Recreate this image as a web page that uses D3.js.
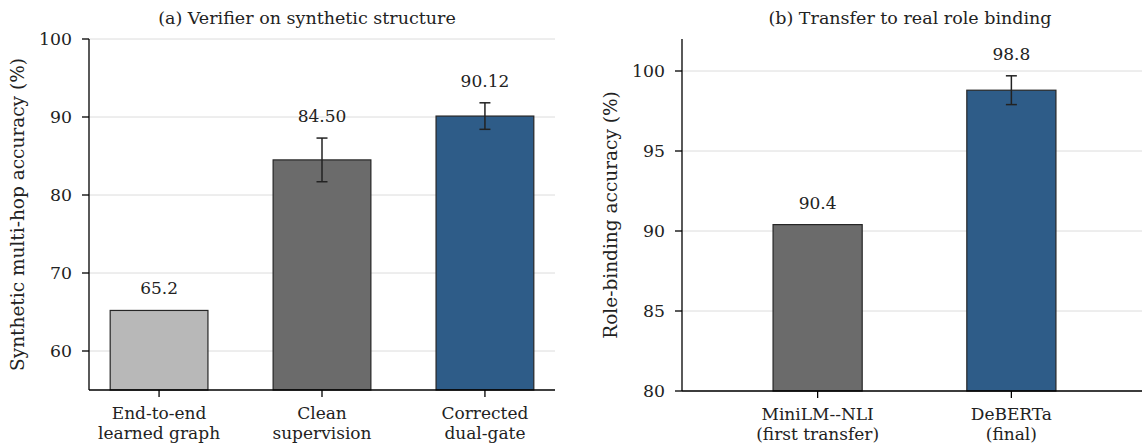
<!DOCTYPE html>
<html>
<head>
<meta charset="utf-8">
<script src="https://cdn.jsdelivr.net/npm/d3@7"></script>
<style>
  body { margin: 0; background: #fff; }
  text { font-family: "DejaVu Serif", serif; fill: #222; }
</style>
</head>
<body>
<div id="chart"></div>
<script>
// Panel (a) data
let synthLabels = [['End-to-end', 'learned graph'], ['Clean', 'supervision'], ['Corrected', 'dual-gate']];
let synthValues = [65.2, 84.50, 90.12];
let synthText = ['65.2', '84.50', '90.12'];
let synthErr = [0, 2.8, 1.7];
let synthTicks = [60, 70, 80, 90, 100];

// Panel (b) data
let roleLabels = [['MiniLM--NLI', '(first transfer)'], ['DeBERTa', '(final)']];
let roleValues = [90.4, 98.8];
let roleText = ['90.4', '98.8'];
let roleErr = [0, 0.9];
let roleTicks = [80, 85, 90, 95, 100];

let width = 1142;
let height = 446;

let svg = d3.select('#chart')
	.append('svg')
	.attr('width', width)
	.attr('height', height)

function panel(opt){
	let g = svg.append('g');
	let x = d3.scaleLinear().domain(opt.xDomain).range([opt.left, opt.right]);
	let y = d3.scaleLinear().domain(opt.yDomain).range([opt.bottom, opt.top]);

	// grid
	g.selectAll('.grid')
	 .data(opt.ticks)
	 .enter()
	 .append('line')
	 .attr('x1', opt.left)
	 .attr('x2', opt.right)
	 .attr('y1', d => y(d))
	 .attr('y2', d => y(d))
	 .attr('stroke', '#dcdcdc')
	 .attr('stroke-width', 1)

	// bars
	g.selectAll('.bar')
	 .data(opt.values)
	 .enter()
	 .append('rect')
	 .attr('x', (d, i) => x(i - opt.barWidth / 2))
	 .attr('width', (d, i) => x(i + opt.barWidth / 2) - x(i - opt.barWidth / 2))
	 .attr('y', d => y(d))
	 .attr('height', d => y(opt.yDomain[0]) - y(d))
	 .attr('fill', (d, i) => opt.colors[i])
	 .attr('stroke', '#262626')
	 .attr('stroke-width', 1.2)

	// error bars + value labels
	for(let i = 0; i < opt.values.length; i++){
		if(opt.err[i] > 0){
			let cx = x(i);
			let lo = y(opt.values[i] - opt.err[i]);
			let hi = y(opt.values[i] + opt.err[i]);
			g.append('line').attr('x1', cx).attr('x2', cx).attr('y1', lo).attr('y2', hi)
			 .attr('stroke', '#222').attr('stroke-width', 1.5)
			g.append('line').attr('x1', cx - 5.5).attr('x2', cx + 5.5).attr('y1', lo).attr('y2', lo)
			 .attr('stroke', '#222').attr('stroke-width', 1.5)
			g.append('line').attr('x1', cx - 5.5).attr('x2', cx + 5.5).attr('y1', hi).attr('y2', hi)
			 .attr('stroke', '#222').attr('stroke-width', 1.5)
		}
		g.append('text')
		 .text(opt.text[i])
		 .attr('x', x(i))
		 .attr('y', y(opt.values[i] + opt.err[i]) - 16)
		 .attr('text-anchor', 'middle')
		 .attr('font-size', 17)
	}

	// y axis
	g.append('line')
	 .attr('x1', opt.left).attr('x2', opt.left)
	 .attr('y1', opt.top).attr('y2', opt.bottom)
	 .attr('stroke', '#000').attr('stroke-width', 1.3)
	for(let i = 0; i < opt.ticks.length; i++){
		g.append('line')
		 .attr('x1', opt.left - 7).attr('x2', opt.left)
		 .attr('y1', y(opt.ticks[i])).attr('y2', y(opt.ticks[i]))
		 .attr('stroke', '#000').attr('stroke-width', 1.3)
		g.append('text')
		 .text(opt.ticks[i])
		 .attr('x', opt.left - 17)
		 .attr('y', y(opt.ticks[i]))
		 .attr('dy', '0.36em')
		 .attr('text-anchor', 'end')
		 .attr('font-size', 17.3)
	}

	// x axis
	g.append('line')
	 .attr('x1', opt.left).attr('x2', opt.right)
	 .attr('y1', opt.bottom).attr('y2', opt.bottom)
	 .attr('stroke', '#000').attr('stroke-width', 1.3)
	for(let i = 0; i < opt.labels.length; i++){
		g.append('line')
		 .attr('x1', x(i)).attr('x2', x(i))
		 .attr('y1', opt.bottom).attr('y2', opt.bottom + 7)
		 .attr('stroke', '#000').attr('stroke-width', 1.3)
		for(let j = 0; j < opt.labels[i].length; j++){
			g.append('text')
			 .text(opt.labels[i][j])
			 .attr('x', x(i))
			 .attr('y', opt.bottom + 29 + j * 19.5)
			 .attr('text-anchor', 'middle')
			 .attr('font-size', 17)
		}
	}

	// y label
	g.append('text')
	 .text(opt.yLabel)
	 .attr('transform', 'translate(' + opt.yLabelX + ',' + (opt.top + opt.bottom) / 2 + ') rotate(-90)')
	 .attr('text-anchor', 'middle')
	 .attr('dy', '0.36em')
	 .attr('font-size', 18.5)

	// title
	g.append('text')
	 .text(opt.title)
	 .attr('x', opt.titleX)
	 .attr('y', 24)
	 .attr('text-anchor', 'middle')
	 .attr('font-size', 17.5)
}

panel({
	xDomain: [-0.43, 2.43], yDomain: [55, 100],
	left: 89, right: 555, top: 39, bottom: 390,
	barWidth: 0.6,
	values: synthValues, text: synthText, err: synthErr, ticks: synthTicks, labels: synthLabels,
	colors: ['#b8b8b8', '#6b6b6b', '#2e5c88'],
	yLabel: 'Synthetic multi-hop accuracy (%)', yLabelX: 17,
	title: '(a) Verifier on synthetic structure', titleX: 307
})

panel({
	xDomain: [-0.7, 1.7], yDomain: [80, 102],
	left: 682, right: 1147, top: 39, bottom: 391,
	barWidth: 0.46,
	values: roleValues, text: roleText, err: roleErr, ticks: roleTicks, labels: roleLabels,
	colors: ['#6b6b6b', '#2e5c88'],
	yLabel: 'Role-binding accuracy (%)', yLabelX: 610,
	title: '(b) Transfer to real role binding', titleX: 910
})
</script>
</body>
</html>
